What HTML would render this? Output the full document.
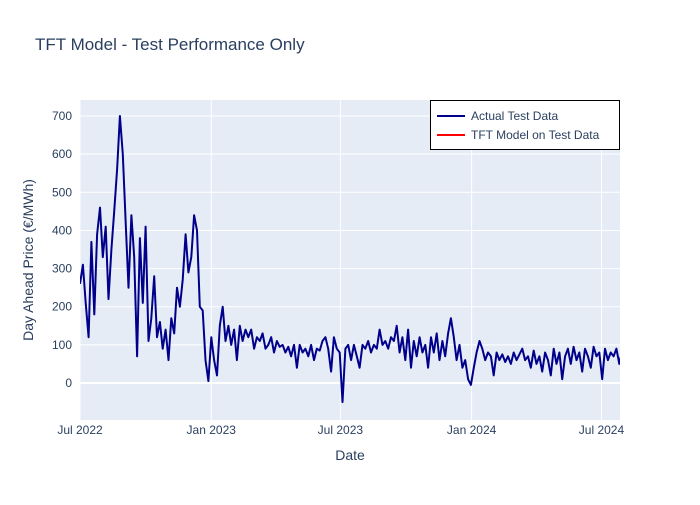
<!DOCTYPE html>
<html><head><meta charset="utf-8">
<style>
body{margin:0;background:#fff;}
svg text{font-family:"Liberation Sans",Arial,sans-serif;fill:#2a3f5f;}
</style></head>
<body>
<svg id="chart" width="700" height="500" xmlns="http://www.w3.org/2000/svg">
<rect x="0" y="0" width="700" height="500" fill="#fff"/>
<text x="35" y="50" font-size="17">TFT Model - Test Performance Only</text>
<rect x="80" y="100" width="540" height="320" fill="#e5ecf6"/>
<g id="grid"></g>
<defs><clipPath id="clip"><rect x="80" y="100" width="540" height="320"/></clipPath></defs>
<g id="series" clip-path="url(#clip)"></g>
<g id="ticks"></g>
<text x="350" y="460" font-size="14" text-anchor="middle">Date</text>
<text x="0" y="0" font-size="14" text-anchor="middle" transform="translate(33,260) rotate(-90)">Day Ahead Price (€/MWh)</text>
<g>
<rect x="430.5" y="100.5" width="189" height="49" fill="#fff" stroke="#000" stroke-width="1"/>
<g>
<line x1="437" y1="116" x2="465" y2="116" stroke="#00008b" stroke-width="2"/>
<text x="471" y="120" font-size="12">Actual Test Data</text></g>
<g>
<line x1="437" y1="135" x2="465" y2="135" stroke="red" stroke-width="2"/>
<text x="471" y="139" font-size="12">TFT Model on Test Data</text></g>
</g>
</svg>
<script>
const startDate = "2022-07-01";
const stepDays = 4;
const actualValues = [260,310,210,120,370,180,390,460,330,410,220,350,450,560,700,600,420,250,440,330,70,380,210,410,110,170,280,120,160,90,140,60,170,130,250,200,270,390,290,330,440,400,200,190,60,5,120,60,20,150,200,110,150,100,140,60,150,110,140,120,140,90,120,110,130,90,100,120,80,110,95,100,80,95,70,100,40,100,80,90,70,100,60,90,85,110,120,90,30,120,90,80,-50,90,100,60,100,70,40,100,90,110,80,100,90,140,100,110,90,120,110,150,80,120,60,140,40,110,70,120,80,100,40,120,80,130,60,110,70,130,170,120,60,100,40,60,10,-5,40,80,110,90,60,80,70,20,80,60,75,55,70,50,80,60,75,90,60,70,40,85,50,70,30,80,60,20,90,50,80,10,70,90,50,95,60,80,30,90,70,40,95,70,80,10,90,60,80,70,90,50,85,70];
const yTicks = [0,100,200,300,400,500,600,700];
const xTickLabels = ["Jul 2022","Jan 2023","Jul 2023","Jan 2024","Jul 2024"];
const xTickDates = ["2022-07-01","2023-01-01","2023-07-01","2024-01-01","2024-07-01"];

const NS="http://www.w3.org/2000/svg";
const X0=80,X1=620,Y0=100,Y1=420;
const t0=Date.parse(startDate), tEnd=Date.parse("2024-07-27");
const yMin=-97,yMax=742;
function xs(t){return X0+(t-t0)/(tEnd-t0)*(X1-X0);}
function ys(v){return Y1-(v-yMin)/(yMax-yMin)*(Y1-Y0);}
function mk(tag,attrs,parent){const e=document.createElementNS(NS,tag);for(const k in attrs)e.setAttribute(k,attrs[k]);parent.appendChild(e);return e;}
const grid=document.getElementById('grid'),ticks=document.getElementById('ticks'),series=document.getElementById('series');
yTicks.forEach(v=>{
  const l=mk('line',{x1:X0,x2:X1,y1:ys(v),y2:ys(v),stroke:'#fff','stroke-width':v===0?2:1},grid);
  
  
  const t=mk('text',{x:X0-8,y:ys(v)+4,'font-size':12,'text-anchor':'end'},ticks);
  t.textContent=v;
  
  
});
xTickDates.forEach((d,i)=>{
  const x=xs(Date.parse(d));
  const l=mk('line',{x1:x,x2:x,y1:Y0,y2:Y1,stroke:'#fff','stroke-width':1},grid);
  
  
  const t=mk('text',{x:x,y:434,'font-size':12,'text-anchor':'middle'},ticks);
  t.textContent=xTickLabels[i];
  
  
});
const pts=actualValues.map((v,i)=>xs(t0+i*stepDays*86400000).toFixed(1)+','+ys(v).toFixed(1)).join(' ');
const pl=mk('polyline',{points:pts,fill:'none',stroke:'#00008b','stroke-width':2,'stroke-linejoin':'round'},series);


</script>
</body></html>
